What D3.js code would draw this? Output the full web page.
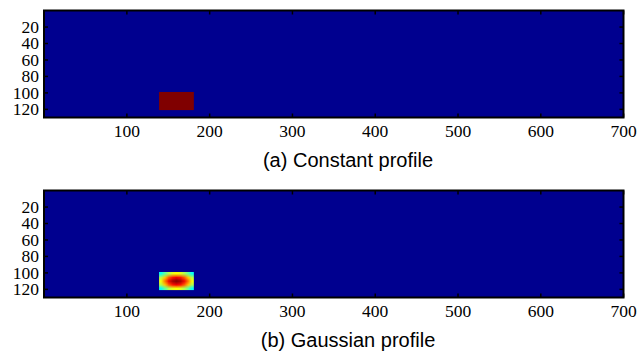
<!DOCTYPE html>
<html>
<head>
<meta charset="utf-8">
<script src="https://cdn.jsdelivr.net/npm/d3@7"></script>
<style>
  body { margin: 0; background: #fff; }
  svg text { fill: #000; }
</style>
</head>
<body>
<div id="chart"></div>
<script>
// grid size of both maps (columns x rows)
const gridCols = [0.5, 700.5];
const gridRows = [0.5, 130.5];
const xTicks = [100, 200, 300, 400, 500, 600, 700];
const yTicks = [20, 40, 60, 80, 100, 120];

// source block (columns / rows covered)
const blockCols = [139.5, 181.5];
const blockRows = [99.5, 121.5];

const panelTitles = ["(a) Constant profile", "(b) Gaussian profile"];

// constant profile: one value over the block
const constantValue = 1;

// gaussian profile: values (normalised, 5 rows x 9 cols)
const gaussianValues = [
  [0.38, 0.47, 0.55, 0.60, 0.62, 0.60, 0.55, 0.47, 0.38],
  [0.55, 0.68, 0.79, 0.86, 0.89, 0.86, 0.79, 0.68, 0.55],
  [0.62, 0.76, 0.89, 0.97, 1.00, 0.97, 0.89, 0.76, 0.62],
  [0.55, 0.68, 0.79, 0.86, 0.89, 0.86, 0.79, 0.68, 0.55],
  [0.38, 0.47, 0.55, 0.60, 0.62, 0.60, 0.55, 0.47, 0.38]
];

const width = 643, height = 351;
const left = 44, right = 623.5;
const panelTops = [10.5, 190.5];
const panelH = 107;
const serif = "'Liberation Serif', 'Times New Roman', Times, serif";
const sans = "'Liberation Sans', Arial, Helvetica, sans-serif";

// matlab "jet"
const jet = d3.scaleLinear()
  .domain([0, 0.125, 0.375, 0.625, 0.875, 1])
  .range(["#00008f", "#0000ff", "#00ffff", "#ffff00", "#ff0000", "#800000"])
  .clamp(true);

const svg = d3.select("#chart").append("svg")
  .attr("width", width)
  .attr("height", height);

const x = d3.scaleLinear().domain(gridCols).range([left, right]);

function gaussianImage(vals) {
  const rows = vals.length, cols = vals[0].length;
  const canvas = document.createElement("canvas");
  canvas.width = cols;
  canvas.height = rows;
  const ctx = canvas.getContext("2d");
  vals.forEach((row, r) => {
    row.forEach((v, c) => {
      ctx.fillStyle = jet(v);
      ctx.fillRect(c, r, 1, 1);
    });
  });
  return canvas.toDataURL();
}

function styleAxis(a) {
  a.attr("font-family", serif).attr("font-size", 17.5);
  a.selectAll("text")
    .style("font-family", serif)
    .style("font-size", "17.5px");
}

function drawPanel(i) {
  const top = panelTops[i];
  const y = d3.scaleLinear().domain(gridRows).range([top, top + panelH]);
  const g = svg.append("g");

  g.append("rect")
    .attr("x", x(gridCols[0]))
    .attr("y", y(gridRows[0]))
    .attr("width", x(gridCols[1]) - x(gridCols[0]))
    .attr("height", y(gridRows[1]) - y(gridRows[0]))
    .attr("fill", jet(0));

  const bx = x(blockCols[0]), bw = x(blockCols[1]) - x(blockCols[0]);
  const by = y(blockRows[0]), bh = y(blockRows[1]) - y(blockRows[0]);

  if (i === 0) {
    g.append("rect")
      .attr("x", bx).attr("y", by)
      .attr("width", bw).attr("height", bh)
      .attr("fill", jet(constantValue));
  } else {
    g.append("image")
      .attr("href", gaussianImage(gaussianValues))
      .attr("x", bx).attr("y", by)
      .attr("width", bw).attr("height", bh)
      .attr("preserveAspectRatio", "none");
  }

  const bottom = g.append("g")
    .attr("transform", `translate(0,${y(gridRows[1])})`)
    .call(d3.axisBottom(x).tickValues(xTicks).tickSize(-4).tickSizeOuter(0))
    .call(styleAxis);
  bottom.selectAll("text").attr("y", 19.5).attr("dy", null);

  g.append("g")
    .attr("transform", `translate(0,${y(gridRows[0])})`)
    .call(d3.axisTop(x).tickValues(xTicks).tickSize(-4).tickSizeOuter(0).tickFormat(""));

  g.append("g")
    .attr("transform", `translate(${left},0)`)
    .call(d3.axisLeft(y).tickValues(yTicks).tickSize(-4).tickSizeOuter(0).tickPadding(5))
    .call(styleAxis)
    .selectAll("text").attr("dy", "0.34em");

  g.append("g")
    .attr("transform", `translate(${right},0)`)
    .call(d3.axisRight(y).tickValues(yTicks).tickSize(-4).tickSizeOuter(0).tickFormat(""));

  g.selectAll(".domain").remove();
  g.selectAll(".tick line").attr("stroke", "#000").attr("stroke-width", 1.5);

  g.append("rect")
    .attr("x", left).attr("y", top)
    .attr("width", right - left).attr("height", panelH)
    .attr("fill", "none")
    .attr("stroke", "#000")
    .attr("stroke-width", 2);

  g.append("text")
    .attr("x", 348)
    .attr("y", top + panelH + 49)
    .attr("text-anchor", "middle")
    .style("font-family", sans)
    .style("font-size", "20px")
    .text(panelTitles[i]);
}

panelTitles.forEach((t, i) => drawPanel(i));
</script>
</body>
</html>
